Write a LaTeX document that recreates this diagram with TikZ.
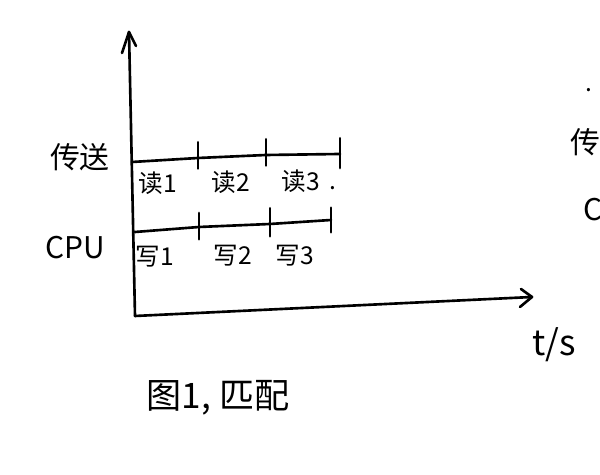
\documentclass[tikz,border=0pt]{standalone}
\usepackage{fontspec}
\newfontfamily\cjk{Noto Sans CJK SC}
\begin{document}
\begin{tikzpicture}[x=0.02cm,y=-0.02cm,
  pen/.style={line width=1.5pt,line cap=round,line join=round},
  rowlbl/.style={font=\cjk\fontsize{14}{14}\selectfont,inner sep=0pt},
  sidelbl/.style={font=\cjk\fontsize{17}{17}\selectfont,inner sep=0pt},
  biglbl/.style={font=\cjk\fontsize{20}{20}\selectfont,inner sep=0pt}]
\useasboundingbox (0,0) rectangle (600,475);
% axes
\coordinate (O) at (135,316);
\coordinate (Ytip) at (129,32);
\coordinate (Xtip) at (532,297);
\coordinate (Yw1) at (122,53);
\coordinate (Yw2) at (136,46);
\coordinate (Xw1) at (521,289);
\coordinate (Xw2) at (520,307);
\draw[pen] (O) -- (Ytip);
\draw[pen] (Yw1) -- (Ytip) -- (Yw2);
\draw[pen] (O) -- (Xtip);
\draw[pen] (Xw1) -- (Xtip) -- (Xw2);
% top row
\coordinate (A0) at (132,162);
\coordinate (A1) at (198,158);
\coordinate (A2) at (266,155);
\coordinate (A3) at (340,154);
\draw[pen] (A0) -- (A1) -- (A2) -- (A3);
\draw[pen] ([yshift=-6]A1) -- ([yshift=9]A1);
\draw[pen] ([yshift=-6]A2) -- ([yshift=9]A2);
\draw[pen] ([yshift=-8]A3) -- ([yshift=9]A3);
% bottom row
\coordinate (B0) at (135,232);
\coordinate (B1) at (199,227);
\coordinate (B2) at (270,224);
\coordinate (B3) at (331,220);
\draw[pen] (B0) -- (B1) -- (B2) -- (B3);
\draw[pen] ([yshift=-7]B1) -- ([yshift=8]B1);
\draw[pen] ([yshift=-7]B2) -- ([yshift=9]B2);
\draw[pen] ([yshift=-7]B3) -- ([yshift=7]B3);
% labels
\node[sidelbl] (dev) at (80,157) {传送};
\node[sidelbl] (cpu) at (75,248) {CPU};
\node[rowlbl] (r1) at (158,183) {读1};
\node[rowlbl] (r2) at (231,182) {读2};
\node[rowlbl] (r3) at (301,181) {读3};
\node[rowlbl] (dot1) at (333,188) {.};
\node[rowlbl] (w1) at (155,257) {写1};
\node[rowlbl] (w2) at (233,256) {写2};
\node[rowlbl] (w3) at (295,256) {写3};
\node[biglbl] (ts) at (554,345) {t/s};
\node[biglbl] (cap) at (218,398) {图1, 匹配};
% partial repeats at right edge
\begin{scope}
\clip (0,0) rectangle (600,475);
\node[rowlbl] (dot2) at (589,90) {.};
\node[sidelbl,anchor=west] (dev2) at (570,142) {传送};
\node[sidelbl,anchor=west] (cpu2) at (583,210) {CPU};
\end{scope}
\end{tikzpicture}
\end{document}
